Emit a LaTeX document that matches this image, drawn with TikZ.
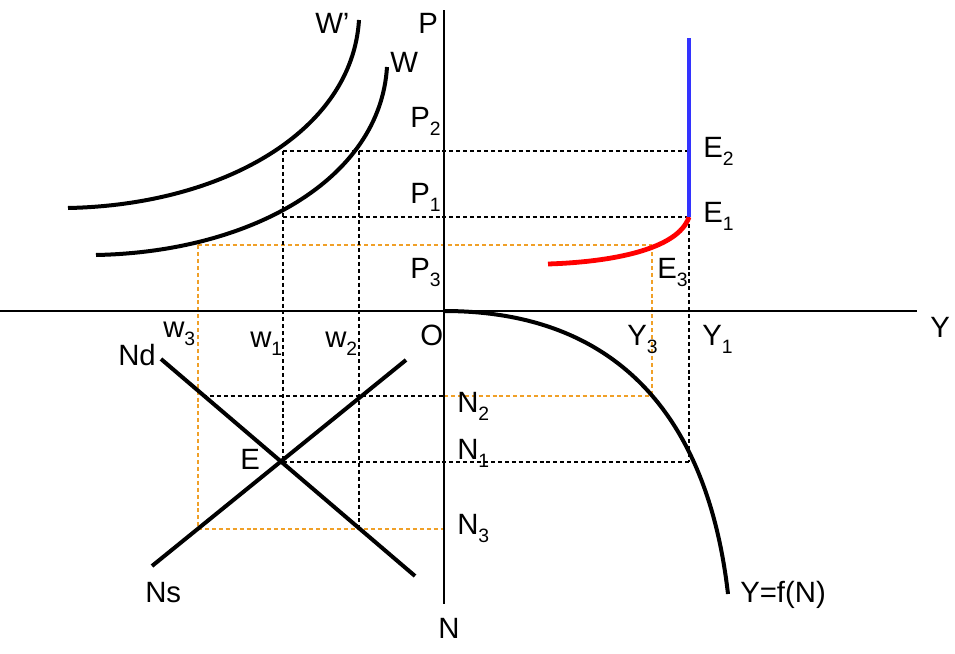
\documentclass[tikz,border=0pt]{standalone}
\usepackage{fontspec}
\setmainfont{Liberation Sans}
\definecolor{guideorange}{RGB}{240,160,40}
\definecolor{lrasblue}{RGB}{51,51,255}
\newcommand{\subnum}[1]{\raisebox{-6pt}{\fontsize{14.5}{16}\selectfont #1}}

\begin{document}
\begin{tikzpicture}[x=0.75pt, y=-0.75pt,
    lbl/.style={font=\fontsize{22}{26}\selectfont, inner sep=0pt, anchor=base west},
    curve/.style={line width=3pt, black},
    axis/.style={line width=0.9pt, black},
    guide/.style={line width=0.9pt, dash pattern=on 3pt off 2.2pt},
    guideo/.style={guide, guideorange}]
\useasboundingbox (0,0) rectangle (955,653);

%% ---- Punti chiave ----
\coordinate (O)  at (444,311);
\coordinate (E)  at (283,462);
\coordinate (A2) at (283,151);
\coordinate (B2) at (359,151);
\coordinate (A1) at (283,217);
\coordinate (A3) at (198,245);
\coordinate (E2) at (689,151);
\coordinate (E1) at (689,217);
\coordinate (E3) at (652,245);
\coordinate (Q2) at (203,396);
\coordinate (Q3) at (198,529);
\coordinate (R2) at (359,529);
\coordinate (F2) at (652,396);
\coordinate (F1) at (689,462);
\coordinate (Z2) at (444,396);
\coordinate (Z3) at (444,529);

%% ---- Linee guida tratteggiate ----
\draw[guide]  (A2) -- (E2);
\draw[guide]  (A1) -- (E1);
\draw[guideo] (A3) -- (E3);
\draw[guide]  (A2) -- (E);
\draw[guide]  (B2) -- (R2);
\draw[guideo] (A3) -- (Q3);
\draw[guide]  (Q2) -- (Z2);
\draw[guideo] (Z2) -- (F2);
\draw[guideo] (E3) -- (F2);
\draw[guide]  (E) -- (F1);
\draw[guide]  (E1) -- (F1);
\draw[guideo] (Q3) -- (Z3);

%% ---- Assi ----
\coordinate (Ptop) at (444,10);
\coordinate (Nbot) at (444,604);
\coordinate (Yleft) at (0,311);
\coordinate (Yright) at (917,311);
\draw[axis] (Ptop) -- (Nbot);
\draw[axis] (Yleft) -- (Yright);

%% ---- Curve W e W' ----
\draw[curve] (96,255) .. controls (250,252) and (380,180) .. (387,67);
\draw[curve] (68,208) .. controls (222,205) and (352,132) .. (359,20);

%% ---- Nd e Ns ----
\coordinate (Nd0) at (161,359);
\coordinate (Nd1) at (415,576);
\coordinate (Ns0) at (152,566);
\coordinate (Ns1) at (406,360);
\draw[curve] (Nd0) -- (Nd1);
\draw[curve] (Ns0) -- (Ns1);

%% ---- Y = f(N) ----
\draw[curve] (O) .. controls (620,311) and (708,420) .. (728,594);

%% ---- Offerta aggregata ----
\draw[line width=3.6pt, red] (548,264) .. controls (610,262) and (678,250) .. (E1);
\draw[line width=3.6pt, lrasblue] (689,38) -- (E1);

%% ---- Etichette ----
\node[lbl] (lP)  at (418,33)  {P};
\node[lbl] (lP2) at (410,127) {P\subnum{2}};
\node[lbl] (lP1) at (410,203) {P\subnum{1}};
\node[lbl] (lP3) at (410,278) {P\subnum{3}};
\node[lbl] (lWp) at (315,33)  {W'};
\node[lbl] (lW)  at (390,72)  {W};
\node[lbl] (lE2) at (703,157) {E\subnum{2}};
\node[lbl] (lE1) at (703,222) {E\subnum{1}};
\node[lbl] (lE3) at (657,278) {E\subnum{3}};
\node[lbl] (lw3) at (163,337) {w\subnum{3}};
\node[lbl] (lw1) at (250,347) {w\subnum{1}};
\node[lbl] (lw2) at (325,347) {w\subnum{2}};
\node[lbl] (lO)  at (420,345) {O};
\node[lbl] (lY3) at (627,345) {Y\subnum{3}};
\node[lbl] (lY1) at (702,345) {Y\subnum{1}};
\node[lbl] (lY)  at (930,337) {Y};
\node[lbl] (lNd) at (118,365) {Nd};
\node[lbl] (lE)  at (240,469) {E};
\node[lbl] (lN2) at (457,412) {N\subnum{2}};
\node[lbl] (lN1) at (457,459) {N\subnum{1}};
\node[lbl] (lN3) at (457,534) {N\subnum{3}};
\node[lbl] (lNs) at (145,602) {Ns};
\node[lbl] (lN)  at (438,638) {N};
\node[lbl] (lf)  at (740,602) {Y=f(N)};

\end{tikzpicture}
\end{document}
